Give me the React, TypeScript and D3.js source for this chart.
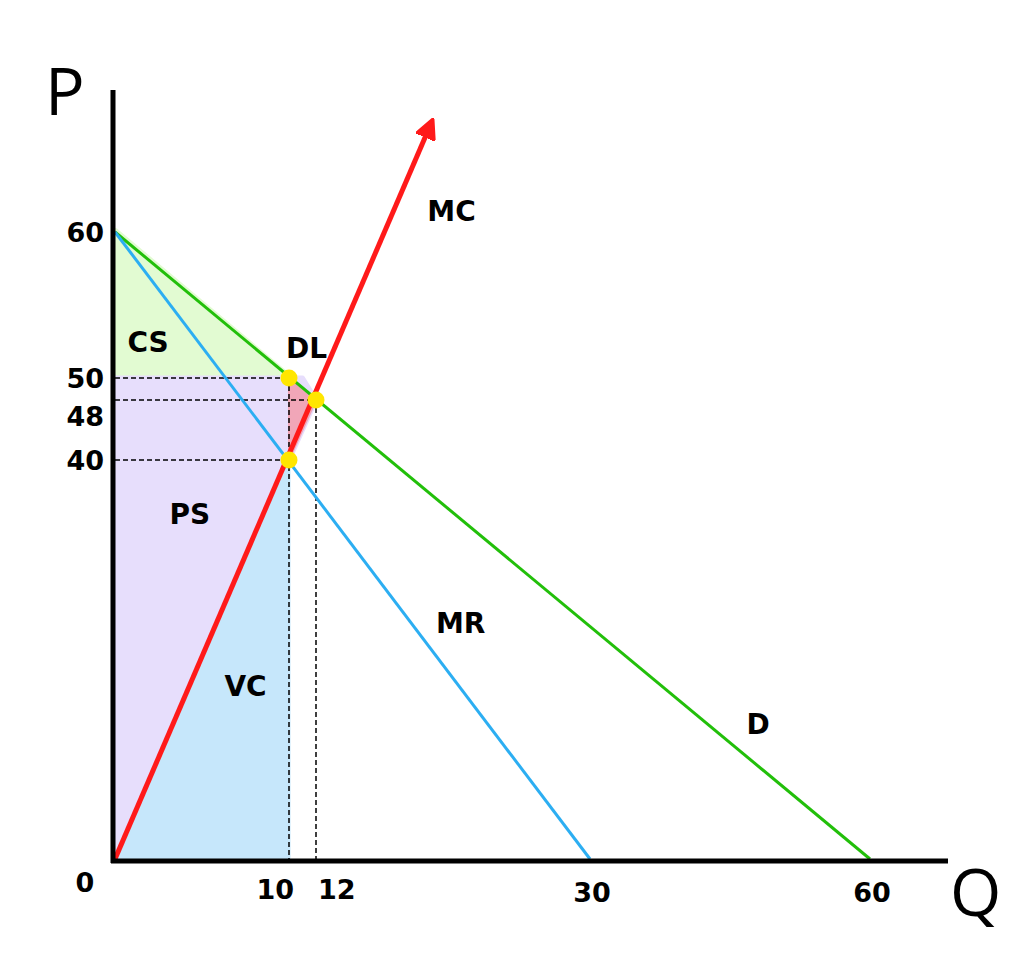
import React from "react";
import * as d3 from "d3";

// quantity / price stops of the hand-drawn axes (the sketch is not to scale)
const qStops = [0, 10, 12, 30, 60];
const pStops = [0, 40, 48, 50, 60, 80];

const qTickLabels = [0, 10, 12, 30, 60];
const pTickLabels = [60, 50, 48, 40];

const demand: [number, number][] = [[0, 60], [60, 0]];
const marginalRevenue: [number, number][] = [[0, 60], [30, 0]];
const marginalCost: [number, number][] = [[0, 0], [19.6, 80]];

const consumerSurplus: [number, number][] = [[0, 60], [10, 50], [0, 50]];
const producerSurplus: [number, number][] = [[0, 50], [11, 50], [12, 48], [10, 40], [0, 0]];
const variableCost: [number, number][] = [[0, 0], [10, 40], [10, 0]];
const deadweightLoss: [number, number][] = [[10, 50], [12, 48], [10, 40]];

// monopoly price, competitive point, MR = MC
const keyPoints: [number, number][] = [[10, 50], [12, 48], [10, 40]];

const areaLabels = [
  { text: "CS", q: 1.9, p: 52.4 },
  { text: "DL", q: 11.3, p: 52.0 },
  { text: "PS", q: 4.3, p: 34.5 },
  { text: "VC", q: 7.5, p: 17.3 },
  { text: "MC", q: 20.9, p: 63.8 },
  { text: "MR", q: 21.5, p: 23.6 },
  { text: "D", q: 48, p: 13.5 },
];

export default function App() {
  const width = 1024;
  const height = 956;

  const x = d3.scaleLinear().domain(qStops).range([115, 289, 316, 590, 870]);
  const y = d3.scaleLinear().domain(pStops).range([859, 460, 400, 378, 232, 122]);

  const line = d3
    .line<[number, number]>()
    .x((d) => x(d[0]))
    .y((d) => y(d[1]));

  const poly = (pts: [number, number][]) => line(pts) + "Z";

  const boldFont = "'DejaVu Sans', sans-serif";

  return (
    <div style={{ position: "absolute", left: 0, top: 0 }}>
      <svg width={width} height={height} style={{ display: "block", background: "#fff" }}>
        <defs>
          <marker
            id="arrow"
            viewBox="0 0 10 10"
            refX="8"
            refY="5"
            markerWidth="4.2"
            markerHeight="4.2"
            orient="auto"
            markerUnits="strokeWidth"
          >
            <path d="M0,0 L10,5 L0,10 Z" fill="#ff1a1a" stroke="#ff1a1a" strokeLinejoin="round" />
          </marker>
        </defs>

        {/* shaded areas */}
        <g strokeLinejoin="round">
          <path d={poly(consumerSurplus)} fill="#e2fbd2" stroke="#e2fbd2" strokeWidth={8} />
          <path d={poly(producerSurplus)} fill="#e7defc" stroke="#e7defc" strokeWidth={5} />
          <path d={poly(variableCost)} fill="#c6e7fb" stroke="#c6e7fb" strokeWidth={3} />
          <path d={poly(deadweightLoss)} fill="#f1a6b8" stroke="#f1a6b8" strokeWidth={2} />
        </g>

        {/* guide lines */}
        <g stroke="#000" strokeWidth={1.5} strokeDasharray="5,3" fill="none">
          {keyPoints.map(([q, p], i) => (
            <g key={i}>
              <line x1={x(0)} x2={x(q)} y1={y(p)} y2={y(p)} />
              {p !== 40 && <line x1={x(q)} x2={x(q)} y1={y(p)} y2={y(0)} />}
            </g>
          ))}
        </g>

        {/* curves */}
        <path d={line(demand) ?? ""} stroke="#22bf0a" strokeWidth={3} fill="none" />
        <path d={line(marginalRevenue) ?? ""} stroke="#2caef2" strokeWidth={3} fill="none" />
        <path
          d={line(marginalCost) ?? ""}
          stroke="#ff1a1a"
          strokeWidth={5}
          fill="none"
          markerEnd="url(#arrow)"
        />

        {keyPoints.map(([q, p], i) => (
          <circle key={i} cx={x(q)} cy={y(p)} r={8.5} fill="#ffe600" />
        ))}

        {/* axes */}
        <g stroke="#000" strokeWidth={5}>
          <line x1={113} x2={113} y1={90} y2={863} />
          <line x1={111} x2={948} y1={861} y2={861} />
        </g>

        <text x={45} y={115} fontFamily="'Open Sans', sans-serif" fontSize={66} fill="#000">
          P
        </text>
        <text x={950} y={916} fontFamily="'Open Sans', sans-serif" fontSize={66} fill="#000">
          Q
        </text>

        {/* tick labels */}
        <g fontFamily={boldFont} fontWeight="bold" fontSize={27} fill="#000">
          {pTickLabels.map((p) => (
            <text
              key={p}
              x={104}
              y={y(p) + (p === 48 ? 16 : 0)}
              textAnchor="end"
              dominantBaseline="central"
            >
              {p}
            </text>
          ))}
          {qTickLabels.map((q) => {
            const anchor = q === 10 ? "end" : q === 12 ? "start" : "middle";
            const dx = q === 0 ? -30 : q === 10 ? 5 : q === 12 ? 2 : 2;
            const dy = q === 0 ? 23 : q === 10 || q === 12 ? 30 : 33;
            return (
              <text
                key={q}
                x={x(q) + dx}
                y={y(0) + dy}
                textAnchor={anchor}
                dominantBaseline="central"
              >
                {q}
              </text>
            );
          })}
        </g>

        {/* area and curve labels */}
        <g fontFamily={boldFont} fontWeight="bold" fontSize={28} fill="#000">
          {areaLabels.map((l) => (
            <text
              key={l.text}
              x={x(l.q)}
              y={y(l.p)}
              textAnchor="middle"
              dominantBaseline="central"
            >
              {l.text}
            </text>
          ))}
        </g>
      </svg>
    </div>
  );
}
